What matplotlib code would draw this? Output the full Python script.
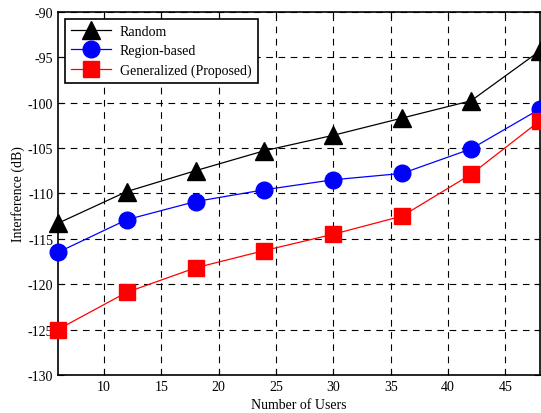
import matplotlib
matplotlib.use("Agg")
import matplotlib.pyplot as plt

users = [6, 12, 18, 24, 30, 36, 42, 48]
random_vals = [-113.3, -109.8, -107.5, -105.3, -103.6, -101.7, -99.8, -94.3]
region_vals = [-116.5, -112.9, -110.9, -109.6, -108.5, -107.8, -105.1, -100.7]
general_vals = [-125.0, -120.9, -118.2, -116.3, -114.5, -112.5, -107.9, -102.0]
labels = ["Random", "Region-based", "Generalized (Proposed)"]
xticks = [10, 15, 20, 25, 30, 35, 40, 45]
yticks = [-130, -125, -120, -115, -110, -105, -100, -95, -90]

plt.rcParams['font.family'] = ['Liberation Serif', 'DejaVu Serif']
plt.rcParams['axes.unicode_minus'] = False

fig = plt.figure(figsize=(5.41, 4.14), dpi=100)
ax = fig.add_axes([0.107, 0.092, 0.891, 0.877])

ax.plot(users, random_vals, color='black', lw=0.9, marker='^', ms=13,
        markerfacecolor='black', markeredgecolor='black', label=labels[0], clip_on=False, zorder=3)
ax.plot(users, region_vals, color='blue', lw=0.9, marker='o', ms=12,
        markerfacecolor='blue', markeredgecolor='blue', label=labels[1], clip_on=False, zorder=3)
ax.plot(users, general_vals, color='red', lw=0.9, marker='s', ms=11,
        markerfacecolor='red', markeredgecolor='red', label=labels[2], clip_on=False, zorder=3)

ax.set_xlim(6, 48)
ax.set_ylim(-130, -90)
ax.set_xticks(xticks)
ax.set_yticks(yticks)
ax.tick_params(direction='in', labelsize=10, length=4, top=True, right=True)
ax.grid(True, color='black', linestyle=(0, (6, 5)), lw=0.8)
for s in ax.spines.values():
    s.set_linewidth(1.2)

ax.set_xlabel("Number of Users", fontsize=10)
ax.set_ylabel("Interference (dB)", fontsize=10, labelpad=2)

leg = ax.legend(loc='upper left', fontsize=10, fancybox=False, framealpha=1,
                edgecolor='black', borderpad=0.45, handlelength=2.9, labelspacing=0.45,
                borderaxespad=0.5, handletextpad=0.6)
leg.get_frame().set_linewidth(1.2)

fig.savefig("out.png", dpi=100)
